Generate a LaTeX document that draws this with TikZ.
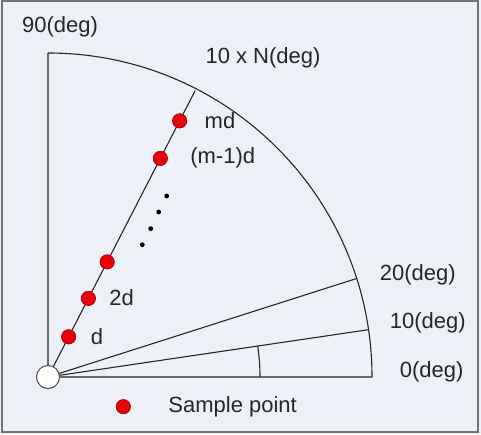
\documentclass[tikz,border=0pt]{standalone}
\usepackage{fontspec}
\setmainfont{Liberation Sans}
\usepackage{xcolor}
\usetikzlibrary{positioning}

\definecolor{panelbg}{HTML}{EDF1F7}
\definecolor{sampred}{HTML}{E8000B}

\begin{document}
\begin{tikzpicture}[
    x=0.5pt, y=0.5pt,
    degtext/.style={font=\fontsize{11}{13}\selectfont, text=black!85, inner sep=0pt},
    samplept/.style={circle, fill=sampred, draw=red!60!black, line width=0.3pt, minimum size=7.2pt, inner sep=0pt},
    gapdot/.style={circle, fill=black, minimum size=2.4pt, inner sep=0pt},
    rim/.style={line width=0.55pt, black!85},
  ]
  \useasboundingbox (0,0) rectangle (481,434);
  % Panel
  \fill[panelbg] (0,0) rectangle (481,434);
  \draw[black!55, line width=0.7pt] (2,2) rectangle (478,433);

  % Quarter disc
  \coordinate (O) at (48,57);
  \coordinate (top) at (48,381);
  \coordinate (east) at (372,57);
  \coordinate (r10) at ([shift={(8.4:162pt)}]O);
  \coordinate (r20) at ([shift={(17.7:162pt)}]O);
  \coordinate (rN) at ([shift={(62.8:161pt)}]O);
  \coordinate (ang) at ([shift={(0:106pt)}]O);

  \draw[rim] (top) -- (O) -- (east) arc[start angle=0, end angle=90, radius=162pt];
  \draw[rim] (O) -- (r10);
  \draw[rim] (O) -- (r20);
  \draw[rim] (O) -- (rN);
  \draw[rim] (ang) arc[start angle=0, end angle=8.4, radius=106pt];

  % Origin
  \node[circle, draw=black!70, fill=white, line width=0.5pt, minimum size=11.5pt, inner sep=0pt] (orig) at (O) {};

  % Sample points
  \node[samplept] (s1) at ([shift={(62.8:22.6pt)}]O) {};
  \node[samplept] (s2) at ([shift={(62.8:44.2pt)}]O) {};
  \node[samplept] (s3) at ([shift={(62.8:64.7pt)}]O) {};
  \node[samplept] (sm1) at ([shift={(62.8:122.9pt)}]O) {};
  \node[samplept] (sm) at ([shift={(62.8:144pt)}]O) {};

  % Gap dots
  \foreach \px/\py in {142.3/189.3, 150.7/205.3, 158.7/222, 166.7/238}
    \node[gapdot] at (\px,\py) {};

  % Labels
  \node[degtext] (lbl90) at (60,407) {90(deg)};
  \node[degtext] (lblN) at (263,376) {10 x N(deg)};
  \node[degtext] (lblmd) at (220,313) {md};
  \node[degtext] (lblm1) at (222.7,276) {(m-1)d};
  \node[degtext] (lbl2d) at (121.7,136.3) {2d};
  \node[degtext] (lbld) at (97,97) {d};
  \node[degtext] (lbl20) at (417.7,159) {20(deg)};
  \node[degtext] (lbl10) at (427.7,111) {10(deg)};
  \node[degtext] (lbl0) at (431.7,62.3) {0(deg)};

  % Legend
  \node[samplept] (legdot) at (123.3,27.3) {};
  \node[degtext, anchor=west] (legtext) at (168,27.3) {Sample point};
\end{tikzpicture}
\end{document}
